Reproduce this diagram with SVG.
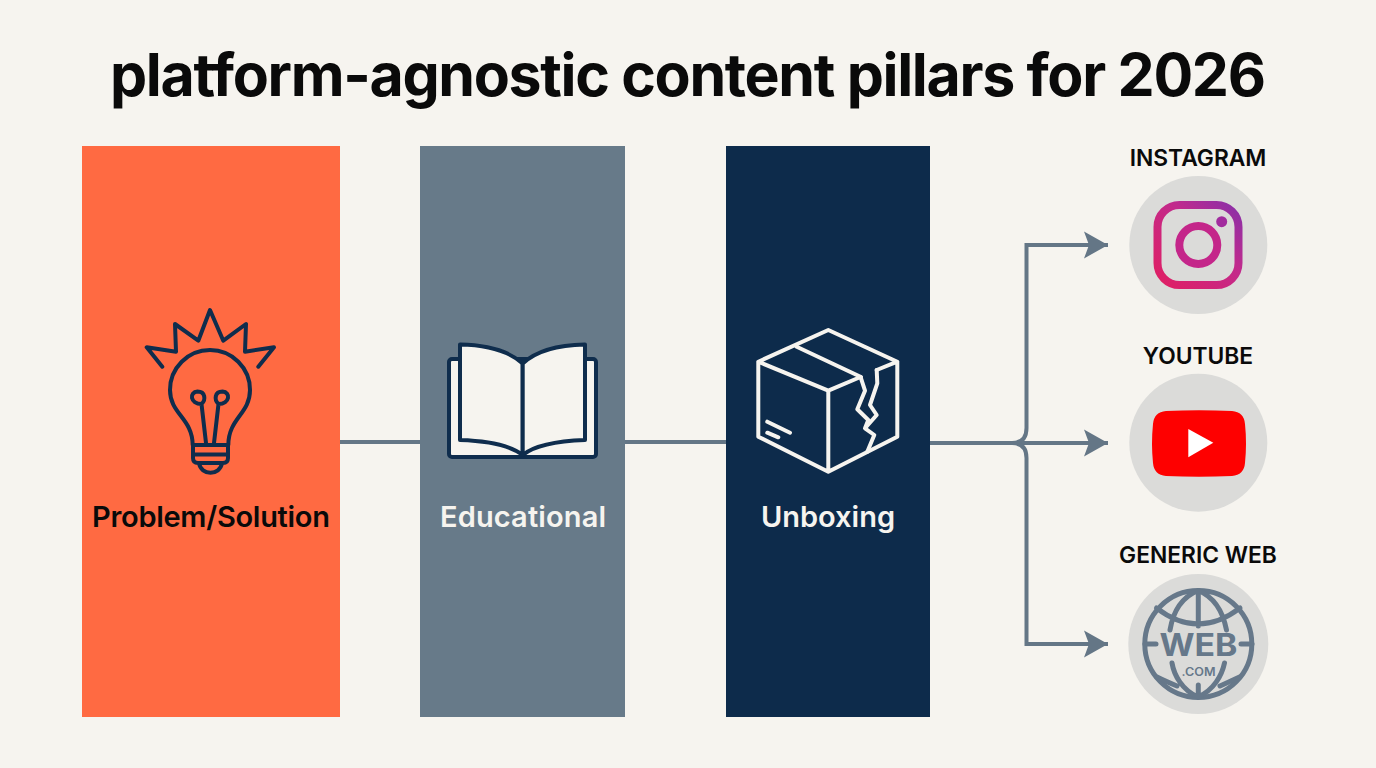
<svg xmlns="http://www.w3.org/2000/svg" width="1376" height="768" viewBox="0 0 1376 768">
<style>
text{font-family:Inter,"Liberation Sans",sans-serif;text-anchor:middle}
.title{font-size:59px;font-weight:650;fill:#0a0a0a}
.lab{font-size:29px;font-weight:600}
.plat{font-size:22.800px;font-weight:600;fill:#0a0a0a}
.conn{fill:none;stroke:#647686;stroke-width:4}
.ic{fill:none;stroke:#0f2d4d;stroke-width:4;stroke-linecap:round;stroke-linejoin:round}
.w{fill:none;stroke:#f6f4ef;stroke-width:4;stroke-linecap:round;stroke-linejoin:round}
.g{fill:none;stroke:#66788a;stroke-width:5;stroke-linecap:round}
.disc{fill:#dbdbd9}
</style>
<defs>
<marker id="ah" markerUnits="userSpaceOnUse" markerWidth="26" markerHeight="28" refX="25" refY="14" orient="auto"><path d="M1 0.5L25 14L1 27.500L6 14Z" fill="#647686"/></marker>
<linearGradient id="ig" x1="0" y1="1" x2="1" y2="0"><stop offset="0" stop-color="#e01f63"/><stop offset="0.6" stop-color="#c22a8c"/><stop offset="1" stop-color="#8a30a8"/></linearGradient>
</defs>
<rect width="1376" height="768" fill="#f6f4ef"/>
<text id="title" class="title" x="688" y="96" textLength="1156">platform-agnostic content pillars for 2026</text>
<g id="connectors">
<path class="conn" d="M340 442H420M625 442H726"/>
<path class="conn" d="M930 443H1012Q1026.500 443 1026.500 428V245H1108" marker-end="url(#ah)"/>
<path class="conn" d="M930 443H1108" marker-end="url(#ah)"/>
<path class="conn" d="M1012 443Q1026.500 443 1026.500 458V644H1108" marker-end="url(#ah)"/>
</g>
<g id="pillar-problem">
<rect x="82" y="146" width="258" height="571" fill="#ff6a42"/>
<path class="ic" d="M162.300 366.700L146.700 347.300L176 351.700L175 324L198.300 340.700L210 310L223.300 340.700L246 324L245 351.700L274 347.300L258.300 366.700"/>
<path class="ic" d="M192.700 445C192.500 418 170 414 170 390A40 40 0 0 1 250 390C250 414 228.500 418 228.300 445"/>
<path class="ic" d="M206 443L201.500 404C190 404 189 392 197.500 391.500C205.500 391.500 206 400 201.500 404M214 443L218.500 404C230 404 231 392 222.500 391.500C214.500 391.500 214 400 218.500 404"/>
<path class="ic" d="M193 445H228V458Q228 463 223 463H198Q193 463 193 458ZM193 454.500H228M199 463C201 476 220 476 222 463"/>
<text class="lab" x="211" y="527" fill="#0a0a0a" textLength="238">Problem/Solution</text>
</g>
<g id="pillar-educational">
<rect x="420" y="146" width="205" height="571" fill="#677a89"/>
<rect x="449" y="359" width="147" height="98" rx="3" fill="#f6f4ef" stroke="#0f2d4d" stroke-width="4"/>
<path d="M460 344.500C490 345 510 352 522.700 363.500V455C510 445 490 441 460 440Z" fill="#f6f4ef" stroke="#0f2d4d" stroke-width="4" stroke-linejoin="round"/>
<path d="M585 344.500C555 345 535 352 522.700 363.500V455C535 445 555 441 585 440Z" fill="#f6f4ef" stroke="#0f2d4d" stroke-width="4" stroke-linejoin="round"/>
<text class="lab" x="523" y="527" fill="#f6f4ef" textLength="166">Educational</text>
</g>
<g id="pillar-unboxing">
<rect x="726" y="146" width="204" height="571" fill="#0d2b4b"/>
<path class="w" d="M860.500 377L828.300 390.700L758.300 361.700L828.300 330L897.300 361.700L876.700 370M758.300 361.700V436.700L828.300 471.700L897.300 436.700V361.700M828.300 390.700V471.700M796.700 346.700L861 377M767.300 421.700L790 432.700M767.300 432.700L778.300 437.300"/>
<path class="w" d="M860.700 377.300L865 390.700L857.300 409.300L868.300 420L865 428.300L874.300 435L867.300 451.700M876.700 370L877.300 383.300L870 405L876.700 415L865 428.300"/>
<text class="lab" x="828" y="527" fill="#f6f4ef">Unboxing</text>
</g>
<g id="node-instagram">
<text class="plat" x="1198" y="166">INSTAGRAM</text>
<circle class="disc" cx="1198.300" cy="245" r="69"/>
<rect x="1157.500" y="205" width="81" height="80" rx="22" fill="none" stroke="url(#ig)" stroke-width="8"/>
<circle cx="1198.300" cy="245" r="19" fill="none" stroke="#c4268a" stroke-width="8"/>
<circle cx="1221.700" cy="221.700" r="5.500" fill="#a22c9e"/>
</g>
<g id="node-youtube">
<text class="plat" x="1198" y="364">YOUTUBE</text>
<circle class="disc" cx="1198.300" cy="442.700" r="69"/>
<path d="M1166 411Q1199 409.500 1232 411Q1244 412 1245 424Q1247 443.500 1245 463Q1244 475 1232 476Q1199 477.500 1166 476Q1154 475 1153 463Q1151 443.500 1153 424Q1154 412 1166 411Z" fill="#fe0000"/>
<path d="M1188.300 429L1213.300 442.700L1188.300 457.300Z" fill="#fff"/>
</g>
<g id="node-web">
<text class="plat" x="1198" y="563">GENERIC WEB</text>
<circle class="disc" cx="1198.300" cy="644" r="70"/>
<circle class="g" cx="1198.300" cy="644" r="53.500"/>
<path class="g" d="M1198.300 590.500V626M1156.500 608Q1198 640 1240 608M1198.300 590.500C1182 597 1173 612 1170 630M1198.300 590.500C1214 597 1223 612 1226.500 630M1145 644H1156M1241 644H1252M1198.300 685V697M1157 677Q1165 681 1177 686M1239.500 677Q1231 681 1220 686M1172 663C1174 675 1182 690 1198 697M1224.500 663C1222 675 1214 690 1198 697"/>
<text x="1198.500" y="656" font-size="31" font-weight="700" fill="#66788a" textLength="78" lengthAdjust="spacingAndGlyphs">WEB</text>
<text x="1198.500" y="676" font-size="11.500" font-weight="600" fill="#66788a" textLength="34" lengthAdjust="spacingAndGlyphs">.COM</text>
</g>
</svg>
